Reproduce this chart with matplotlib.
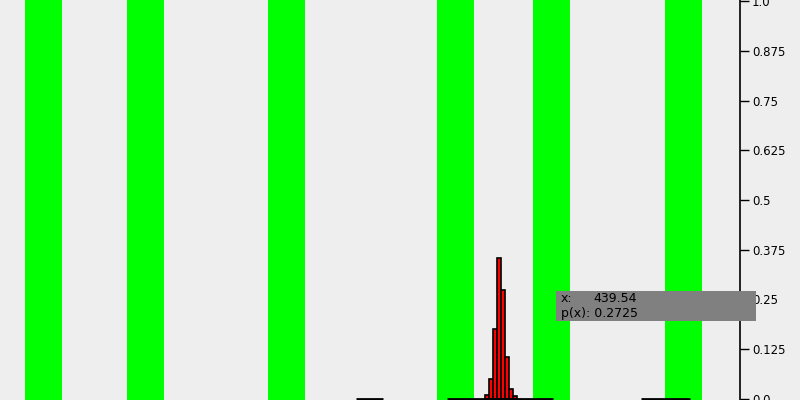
import numpy as np
import matplotlib.pyplot as plt
from matplotlib.patches import Rectangle

# green bands (left edge, width) in x units
band_left = [25, 127, 268, 437, 533, 665]
band_width = 37

# histogram: bin left edges and probabilities
bin_left = [485.3, 489.3, 493.3, 497.3, 501.3, 505.3, 509.3, 513.3]
bin_width = 4.0
prob = [0.01, 0.05, 0.175, 0.355, 0.2725, 0.105, 0.025, 0.0075]

# black ranges along the baseline
range_start = [356, 447, 641]
range_end = [383, 553, 690]

yticks = [0.0, 0.125, 0.25, 0.375, 0.5, 0.625, 0.75, 0.875, 1.0]
ytick_labels = ["0.0", "0.125", "0.25", "0.375", "0.5", "0.625", "0.75", "0.875", "1.0"]

fig = plt.figure(figsize=(8, 4), dpi=100, facecolor="#eeeeee")
ax = fig.add_axes([0, 0, 740 / 800, 1])
ax.set_facecolor("#eeeeee")
ax.set_xlim(0, 740)
ax.set_ylim(-0.003, 1.003)

for b in band_left:
    ax.axvspan(b, b + band_width, color="#00ff00", lw=0, zorder=1)

ax.bar(bin_left, prob, width=bin_width, align="edge", color="red",
       edgecolor="black", linewidth=1.2, zorder=3)
ax.hlines([0] * len(range_start), range_start, range_end, color="black",
          lw=2, zorder=4)

for s in ["top", "left", "bottom"]:
    ax.spines[s].set_visible(False)
ax.spines["right"].set_linewidth(1.2)
ax.yaxis.tick_right()
ax.set_yticks(yticks)
ax.set_yticklabels(ytick_labels)
ax.tick_params(axis="y", length=6.5, width=1, labelsize=8.5, pad=2)
ax.set_xticks([])

# hover tooltip
fig.patches.append(Rectangle((556 / 800, 1 - 321 / 400), 200 / 800, 30 / 400,
                             transform=fig.transFigure, facecolor="#808080",
                             edgecolor="none", zorder=10))
fig.text(561 / 800, 1 - 298 / 400, "x:", fontsize=9, va="center", zorder=11)
fig.text(593 / 800, 1 - 298 / 400, "439.54", fontsize=9, va="center", zorder=11)
fig.text(561 / 800, 1 - 313 / 400, "p(x): 0.2725", fontsize=9, va="center", zorder=11)

fig.savefig("out.png", facecolor=fig.get_facecolor())
